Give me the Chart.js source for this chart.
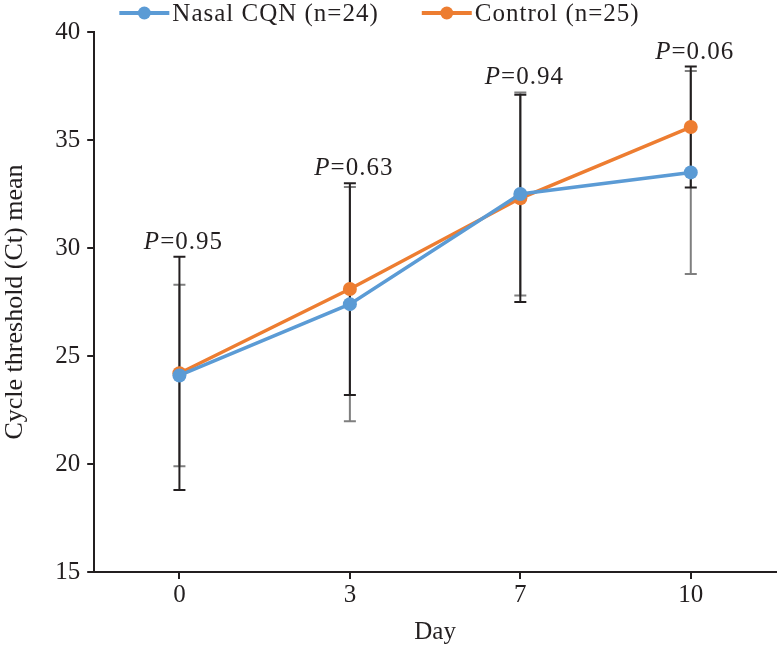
<!DOCTYPE html>
<html>
<head>
<meta charset="utf-8">
<script src="https://cdn.jsdelivr.net/npm/chart.js@4.4.1/dist/chart.umd.min.js"></script>
<style>
  html, body { margin: 0; padding: 0; background: #ffffff; }
  #wrap { width: 777px; height: 647px; }
</style>
</head>
<body>
<div id="wrap"><canvas id="c" width="777" height="647"></canvas></div>
<script>
// ---- data ----
const days = ['0', '3', '7', '10'];
const nasalMean = [24.1, 27.4, 32.5, 33.5];
const nasalSD = [4.2, 5.42, 4.7, 4.7];
const controlMean = [24.2, 28.1, 32.3, 35.6];
const controlSD = [5.4, 4.9, 4.8, 2.8];
const pValues = ['0.95', '0.63', '0.94', '0.06'];
const yTicks = [15, 20, 25, 30, 35, 40];
const seriesNames = ['Nasal CQN (n=24)', 'Control (n=25)'];

const FONT = '"Liberation Serif", "Times New Roman", serif';
const FS = 25;
const BLUE = '#5B9BD5';
const ORANGE = '#ED7D31';
const INK = '#231F20';
const GRAY = '#7F7F7F';

const errorBarPlugin = {
  id: 'errorBars',
  beforeDatasetsDraw(chart) {
    const ctx = chart.ctx;
    const x = chart.scales.x, y = chart.scales.y;
    const sets = [
      { mean: nasalMean, sd: nasalSD, color: GRAY },
      { mean: controlMean, sd: controlSD, color: INK }
    ];
    ctx.save();
    ctx.lineWidth = 2;
    sets.forEach(s => {
      ctx.strokeStyle = s.color;
      s.mean.forEach((m, i) => {
        const px = x.getPixelForValue(i);
        const top = y.getPixelForValue(m + s.sd[i]);
        const bot = y.getPixelForValue(m - s.sd[i]);
        ctx.beginPath();
        ctx.moveTo(px, top); ctx.lineTo(px, bot);
        ctx.moveTo(px - 6, top); ctx.lineTo(px + 6, top);
        ctx.moveTo(px - 6, bot); ctx.lineTo(px + 6, bot);
        ctx.stroke();
      });
    });
    ctx.restore();
  },
  afterDraw(chart) {
    const ctx = chart.ctx;
    const x = chart.scales.x, y = chart.scales.y;
    ctx.save();
    ctx.fillStyle = INK;
    ctx.textBaseline = 'alphabetic';
    ctx.letterSpacing = '1px';
    pValues.forEach((p, i) => {
      const px = x.getPixelForValue(i);
      const topVal = Math.max(nasalMean[i] + nasalSD[i], controlMean[i] + controlSD[i]);
      const py = y.getPixelForValue(topVal) - 8;
      ctx.font = 'italic ' + FS + 'px ' + FONT;
      const wP = ctx.measureText('P').width;
      ctx.font = FS + 'px ' + FONT;
      const rest = '=' + p;
      const wR = ctx.measureText(rest).width;
      const start = px + 4 - (wP + wR) / 2;
      ctx.font = 'italic ' + FS + 'px ' + FONT;
      ctx.textAlign = 'left';
      ctx.fillText('P', start, py);
      ctx.font = FS + 'px ' + FONT;
      ctx.fillText(rest, start + wP, py);
    });

    // legend
    const colors = [BLUE, ORANGE];
    ctx.font = FS + 'px ' + FONT;
    const lineLen = 50, gapText = 3, gapItem = 43;
    const widths = seriesNames.map(n => ctx.measureText(n).width);
    let total = 0;
    widths.forEach((w, i) => { total += lineLen + gapText + w + (i < widths.length - 1 ? gapItem : 0); });
    let cx = chart.width / 2 - 9 - total / 2;
    const ly = 13;
    seriesNames.forEach((n, i) => {
      ctx.strokeStyle = colors[i];
      ctx.fillStyle = colors[i];
      ctx.lineWidth = 4;
      ctx.beginPath();
      ctx.moveTo(cx, ly); ctx.lineTo(cx + lineLen, ly);
      ctx.stroke();
      ctx.beginPath();
      ctx.arc(cx + lineLen / 2, ly, 6.5, 0, Math.PI * 2);
      ctx.fill();
      ctx.fillStyle = INK;
      ctx.textBaseline = 'middle';
      ctx.textAlign = 'left';
      ctx.fillText(n, cx + lineLen + gapText, ly + 1);
      cx += lineLen + gapText + widths[i] + gapItem;
    });
    ctx.restore();
  }
};

new Chart(document.getElementById('c'), {
  type: 'line',
  data: {
    labels: days,
    datasets: [
      {
        label: seriesNames[0],
        data: nasalMean,
        borderColor: BLUE,
        backgroundColor: BLUE,
        borderWidth: 3.5,
        pointRadius: 7,
        pointHoverRadius: 7,
        pointBorderWidth: 0,
        tension: 0
      },
      {
        label: seriesNames[1],
        data: controlMean,
        borderColor: ORANGE,
        backgroundColor: ORANGE,
        borderWidth: 3.5,
        pointRadius: 7,
        pointHoverRadius: 7,
        pointBorderWidth: 0,
        tension: 0
      }
    ]
  },
  options: {
    responsive: false,
    animation: false,
    devicePixelRatio: 1,
    layout: { autoPadding: false, padding: { top: 32, right: 1, left: 0, bottom: 0 } },
    plugins: {
      legend: { display: false },
      tooltip: { enabled: false }
    },
    scales: {
      x: {
        type: 'category',
        offset: true,
        border: { display: true, color: INK, width: 2 },
        grid: { display: true, drawOnChartArea: false, drawTicks: true, tickLength: 7, color: INK, lineWidth: 2 },
        ticks: { color: INK, font: { family: FONT, size: FS }, padding: 1 },
        title: { display: true, text: 'Day', color: INK, font: { family: FONT, size: FS }, padding: { top: 6, bottom: 0 } }
      },
      y: {
        min: 15,
        max: 40,
        afterBuildTicks(scale) { scale.ticks = yTicks.map(v => ({ value: v })); },
        border: { display: true, color: INK, width: 2 },
        grid: { display: true, drawOnChartArea: false, drawTicks: true, tickLength: 7, color: INK, lineWidth: 2 },
        ticks: { color: INK, font: { family: FONT, size: FS }, padding: 7 },
        title: { display: true, text: 'Cycle threshold (Ct) mean', color: INK, font: { family: FONT, size: 26 }, padding: { top: 0, bottom: 17 } }
      }
    }
  },
  plugins: [errorBarPlugin]
});
</script>
</body>
</html>
